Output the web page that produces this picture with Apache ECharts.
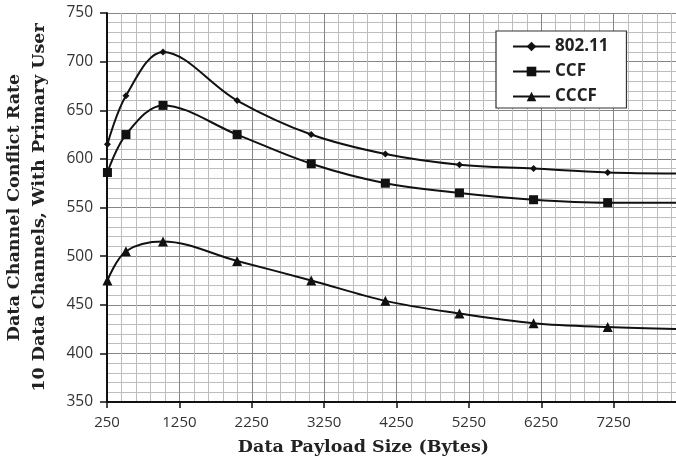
<!DOCTYPE html>
<html>
<head>
<meta charset="utf-8">
<script src="https://cdn.jsdelivr.net/npm/echarts@6/dist/echarts.min.js"></script>
<style>html,body{margin:0;padding:0;background:#fff}#c{width:676px;height:465px}</style>
</head>
<body>
<div id="c"></div>
<script>
const payloadSizes = [256, 512, 1024, 2048, 3072, 4096, 5120, 6144, 7168, 8192];
const rate80211 = [615, 665, 710, 660, 625, 605, 594, 590, 586, 585];
const rateCCF = [586, 625, 655, 625, 595, 575, 565, 558, 555, 555];
const rateCCCF = [475, 505, 515, 495, 475, 454, 441, 431, 427, 425];
const seriesNames = ['802.11', 'CCF', 'CCCF'];
const xTicks = {min: 250, max: 8250, interval: 1000};
const yTicks = {min: 350, max: 750, interval: 50};

const pairs = v => payloadSizes.map((x, i) => [x, v[i]]);
const lineStyle = {color: '#111', width: 2};
const mk = (name, vals, symbol, size) => ({
  name, type: 'line', data: pairs(vals), smooth: 0.35,
  symbol, symbolSize: size, showAllSymbol: true,
  lineStyle, itemStyle: {color: '#111'}, emphasis: {disabled: true}
});
const plain = v => String(v);

const chart = echarts.init(document.getElementById('c'), null, {renderer: 'canvas'});
chart.setOption({
  animation: false,
  backgroundColor: '#fff',
  grid: {left: 107, right: -10, top: 13, bottom: 63, containLabel: false, outerBoundsMode: 'none'},
  legend: {
    orient: 'vertical', left: 496, top: 31,
    data: seriesNames,
    itemWidth: 37, itemHeight: 12, itemGap: 8,
    padding: [7, 18, 3, 16],
    backgroundColor: '#fff', borderColor: '#333', borderWidth: 1.2,
    textStyle: {fontFamily: 'Open Sans', fontSize: 17, fontWeight: 'bold', color: '#222'}
  },
  xAxis: {
    type: 'value', min: xTicks.min, max: xTicks.max, interval: xTicks.interval,
    name: 'Data Payload Size (Bytes)', nameLocation: 'middle', nameGap: 36,
    nameTextStyle: {fontFamily: 'DejaVu Serif', fontWeight: 'bold', fontSize: 17.5, color: '#222', padding: [0, 66, 0, 0]},
    axisLine: {show: true, onZero: false, lineStyle: {color: '#111', width: 2}},
    axisTick: {show: true, length: 6, lineStyle: {color: '#111', width: 1.5}},
    axisLabel: {showMaxLabel: false, margin: 13, fontFamily: 'Open Sans', fontSize: 15, color: '#333', formatter: plain},
    splitLine: {show: true, lineStyle: {color: '#858585', width: 1}},
    minorTick: {show: false, splitNumber: 5},
    minorSplitLine: {show: true, lineStyle: {color: '#bdbdbd', width: 1}}
  },
  yAxis: {
    type: 'value', min: yTicks.min, max: yTicks.max, interval: yTicks.interval,
    name: 'Data Channel Conflict Rate\n10 Data Channels, With Primary User',
    nameLocation: 'middle', nameRotate: 90, nameGap: 55,
    nameTextStyle: {fontFamily: 'DejaVu Serif', fontWeight: 'bold', fontSize: 17.5, lineHeight: 25, color: '#222'},
    axisLine: {show: true, onZero: false, lineStyle: {color: '#111', width: 2}},
    axisTick: {show: true, length: 7, lineStyle: {color: '#111', width: 1.5}},
    axisLabel: {margin: 14, fontFamily: 'Open Sans', fontSize: 15.5, color: '#333', formatter: plain},
    splitLine: {show: true, lineStyle: {color: '#858585', width: 1}},
    minorTick: {show: false, splitNumber: 5},
    minorSplitLine: {show: true, lineStyle: {color: '#bdbdbd', width: 1}}
  },
  series: [
    mk(seriesNames[0], rate80211, 'diamond', 7),
    mk(seriesNames[1], rateCCF, 'rect', 9),
    mk(seriesNames[2], rateCCCF, 'triangle', 10)
  ]
});
</script>
</body>
</html>
